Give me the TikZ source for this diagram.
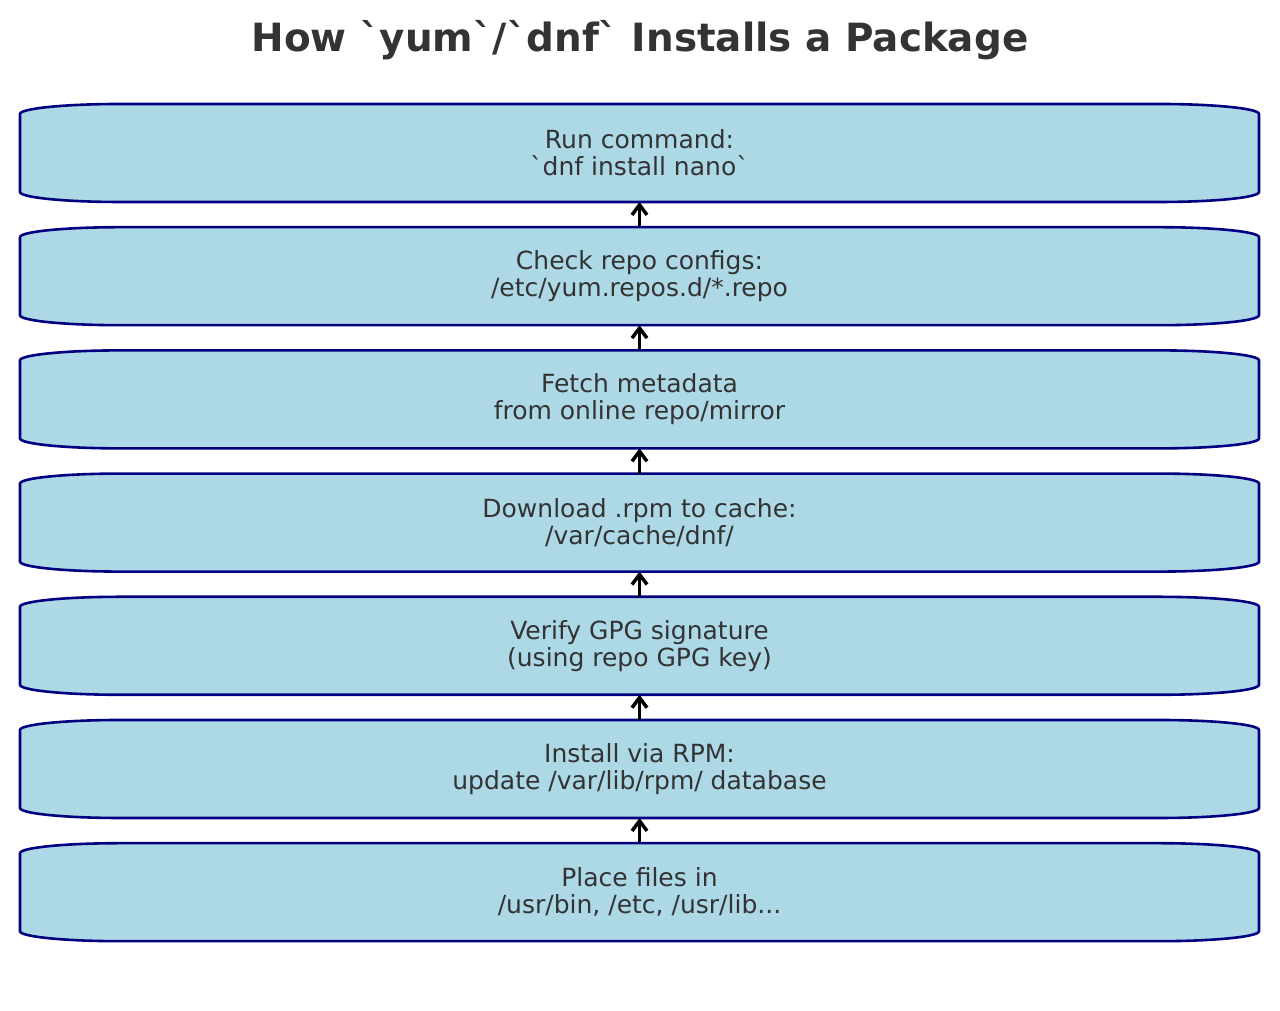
\documentclass[tikz,border=0pt]{standalone}
\usepackage{fontspec}
\setmainfont{DejaVu Sans}[Ligatures=TeXOff]
\usetikzlibrary{arrows.meta,backgrounds}
\definecolor{boxfill}{HTML}{ADD8E6}
\definecolor{boxedge}{HTML}{000080}
\definecolor{textgray}{HTML}{333333}
\tikzset{
	stepbox/.style={minimum width=1239pt, minimum height=98pt, inner sep=0pt, outer sep=0pt,
		align=center, text=textgray, font=\fontsize{25}{27}\selectfont},
	stepline/.style={draw=boxedge, fill=boxfill, line width=2.6pt},
	steparrow/.style={line width=3.5pt, -{Straight Barb[length=10pt,width=15pt]}},
	corner/.style={x radius=100pt, y radius=10pt}
}
\def\stepoutline(#1){\draw[stepline] ([yshift=-10pt]#1.north west) arc[corner, start angle=180, end angle=90] -- ([xshift=-100pt]#1.north east) arc[corner, start angle=90, end angle=0] -- ([yshift=10pt]#1.south east) arc[corner, start angle=0, end angle=-90] -- ([xshift=100pt]#1.south west) arc[corner, start angle=270, end angle=180] -- cycle;}

\begin{document}
\begin{tikzpicture}[x=1pt, y=1pt]
			%%%%% START %%%%%
			\useasboundingbox (0, 0) rectangle (1280, 1011);
			
			\node[anchor=base, text=textgray, font=\bfseries\fontsize{38.9}{46}\selectfont] (title) at (640, 959.3) {How `yum`/`dnf` Installs a Package};
			
			\node[stepbox] (run) at (639.5, 858) {Run command:\\`dnf install nano`};
			\node[stepbox] (repo) at (639.5, 734.8) {Check repo configs:\\/etc/yum.repos.d/*.repo};
			\node[stepbox] (meta) at (639.5, 611.6) {Fetch metadata\\from online repo/mirror};
			\node[stepbox] (cache) at (639.5, 488.4) {Download .rpm to cache:\\/var/cache/dnf/};
			\node[stepbox] (gpg) at (639.5, 365.2) {Verify GPG signature\\(using repo GPG key)};
			\node[stepbox] (rpm) at (639.5, 242) {Install via RPM:\\update /var/lib/rpm/ database};
			\node[stepbox] (files) at (639.5, 118.8) {Place files in\\/usr/bin, /etc, /usr/lib...};
			
			\begin{scope}[on background layer]
				\fill[white] (0, 0) rectangle (1280, 1011);
				\stepoutline(run)
				\stepoutline(repo)
				\stepoutline(meta)
				\stepoutline(cache)
				\stepoutline(gpg)
				\stepoutline(rpm)
				\stepoutline(files)
			\end{scope}
			
			\draw[steparrow] (repo.north) -- (run.south);
			\draw[steparrow] (meta.north) -- (repo.south);
			\draw[steparrow] (cache.north) -- (meta.south);
			\draw[steparrow] (gpg.north) -- (cache.south);
			\draw[steparrow] (rpm.north) -- (gpg.south);
			\draw[steparrow] (files.north) -- (rpm.south);
			
			%%%%% END %%%%%
		\end{tikzpicture}
\end{document}
